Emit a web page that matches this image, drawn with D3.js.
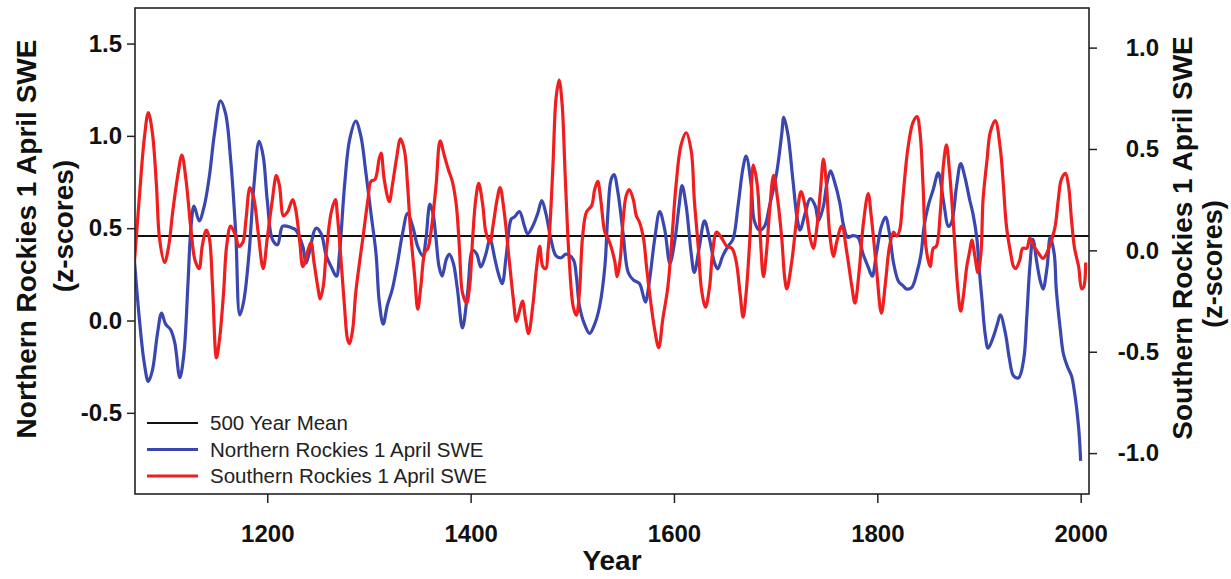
<!DOCTYPE html>
<html>
<head>
<meta charset="utf-8">
<script src="https://cdn.jsdelivr.net/npm/d3@7"></script>
<style>
  html, body { margin: 0; padding: 0; background: #ffffff; }
  svg text { font-family: "Liberation Sans", Arial, sans-serif; }
</style>
</head>
<body>
<svg id="chart" width="1231" height="579"></svg>
<script>
// ---------- DATA ----------
const northYears = [1069,1074,1079,1083,1087,1092,1096,1100,1105,1109,1114,1118,1122,1125,1128,1133,1138,1143,1148,1154,1159,1164,1169,1173,1177,1182,1187,1192,1196,1200,1205,1210,1215,1220,1225,1228,1235,1238,1241,1248,1253,1258,1263,1268,1271,1276,1281,1287,1292,1297,1302,1307,1310,1314,1318,1323,1328,1333,1338,1343,1348,1353,1356,1360,1363,1366,1369,1372,1376,1379,1383,1387,1392,1397,1402,1406,1410,1415,1419,1424,1427,1431,1435,1440,1443,1448,1453,1456,1461,1466,1470,1474,1479,1484,1489,1494,1501,1504,1507,1512,1517,1522,1527,1532,1535,1538,1541,1545,1550,1555,1560,1566,1570,1572,1576,1581,1586,1591,1596,1601,1605,1608,1612,1617,1620,1625,1630,1635,1640,1643,1648,1653,1658,1663,1668,1671,1676,1679,1684,1689,1694,1701,1706,1708,1712,1717,1721,1724,1729,1734,1739,1742,1747,1750,1754,1758,1763,1767,1771,1776,1781,1786,1791,1795,1799,1804,1808,1812,1816,1821,1825,1829,1834,1839,1843,1846,1850,1855,1860,1865,1870,1873,1878,1882,1886,1891,1894,1898,1900,1903,1906,1909,1914,1918,1921,1926,1930,1934,1939,1944,1947,1950,1953,1957,1960,1963,1967,1970,1974,1976,1980,1983,1987,1991,1994,1998,2000];
const northValues = [0.35,0.02,-0.23,-0.33,-0.27,-0.07,0.04,-0.02,-0.05,-0.12,-0.31,-0.18,0.20,0.51,0.62,0.54,0.62,0.78,1.01,1.19,1.12,0.87,0.47,0.03,0.11,0.36,0.74,0.97,0.89,0.65,0.44,0.41,0.51,0.51,0.50,0.49,0.40,0.31,0.36,0.50,0.47,0.35,0.29,0.24,0.36,0.73,0.98,1.08,1.00,0.80,0.58,0.36,0.11,-0.02,0.08,0.17,0.31,0.47,0.58,0.51,0.40,0.35,0.44,0.63,0.58,0.44,0.29,0.24,0.33,0.36,0.31,0.17,-0.04,0.15,0.38,0.36,0.29,0.36,0.44,0.33,0.26,0.20,0.35,0.55,0.56,0.59,0.51,0.47,0.51,0.58,0.65,0.58,0.44,0.35,0.34,0.36,0.33,0.24,0.08,-0.02,-0.07,-0.02,0.08,0.29,0.58,0.76,0.79,0.69,0.47,0.26,0.22,0.20,0.13,0.10,0.22,0.44,0.59,0.49,0.31,0.44,0.62,0.73,0.62,0.36,0.26,0.40,0.54,0.44,0.31,0.28,0.35,0.40,0.44,0.62,0.83,0.89,0.73,0.54,0.49,0.51,0.62,0.80,1.01,1.10,1.01,0.76,0.56,0.49,0.58,0.66,0.62,0.54,0.62,0.73,0.81,0.75,0.64,0.51,0.45,0.46,0.45,0.36,0.29,0.24,0.36,0.51,0.56,0.47,0.31,0.21,0.19,0.17,0.18,0.26,0.36,0.51,0.62,0.71,0.80,0.65,0.51,0.53,0.73,0.85,0.78,0.65,0.58,0.44,0.29,0.11,-0.07,-0.15,-0.09,-0.02,0.03,-0.07,-0.21,-0.30,-0.31,-0.21,0.02,0.29,0.44,0.31,0.22,0.17,0.29,0.45,0.36,0.17,-0.05,-0.18,-0.25,-0.30,-0.39,-0.58,-0.76];

const southYears = [1069,1074,1079,1083,1087,1091,1094,1099,1103,1107,1112,1116,1120,1125,1129,1133,1136,1140,1143,1146,1150,1153,1157,1160,1164,1169,1172,1176,1179,1183,1187,1191,1196,1200,1205,1209,1212,1216,1220,1225,1228,1232,1235,1240,1243,1246,1250,1252,1255,1258,1263,1267,1269,1273,1276,1279,1281,1284,1287,1291,1294,1299,1302,1306,1310,1312,1315,1320,1323,1327,1331,1335,1338,1341,1345,1348,1351,1355,1358,1361,1366,1370,1374,1378,1382,1386,1389,1392,1396,1399,1402,1405,1408,1412,1415,1419,1422,1426,1429,1433,1438,1442,1445,1448,1451,1454,1457,1461,1465,1468,1471,1474,1476,1478,1481,1484,1487,1490,1493,1497,1501,1504,1507,1510,1514,1519,1522,1525,1528,1532,1535,1538,1542,1544,1547,1550,1553,1556,1560,1563,1566,1570,1573,1576,1581,1585,1589,1594,1598,1602,1607,1612,1617,1620,1624,1627,1631,1635,1638,1642,1647,1652,1657,1661,1665,1668,1671,1675,1678,1682,1685,1688,1691,1694,1698,1702,1706,1709,1711,1716,1721,1725,1730,1734,1737,1740,1744,1747,1750,1753,1757,1760,1765,1770,1775,1778,1782,1786,1791,1794,1799,1804,1808,1812,1816,1819,1822,1825,1830,1835,1839,1842,1845,1848,1852,1855,1858,1862,1865,1868,1871,1875,1879,1882,1885,1888,1891,1893,1896,1899,1902,1904,1908,1911,1916,1921,1924,1927,1931,1934,1936,1940,1943,1947,1950,1954,1958,1963,1967,1972,1975,1978,1981,1985,1988,1991,1994,1998,2001,2003,2005];
const southValues = [-0.08,0.25,0.55,0.68,0.58,0.32,0.06,-0.06,0.02,0.19,0.37,0.47,0.35,0.10,-0.05,-0.09,0.02,0.10,0.06,-0.16,-0.53,-0.44,-0.21,0.02,0.12,0.07,0.02,0.04,0.15,0.31,0.25,0.09,-0.09,0.06,0.25,0.37,0.32,0.17,0.19,0.25,0.20,0.04,-0.08,0.00,0.04,-0.06,-0.19,-0.24,-0.18,-0.01,0.19,0.25,0.17,-0.08,-0.28,-0.44,-0.46,-0.39,-0.21,-0.05,0.06,0.25,0.34,0.35,0.45,0.48,0.35,0.24,0.32,0.45,0.55,0.49,0.32,0.09,-0.13,-0.29,-0.18,-0.01,0.01,0.09,0.32,0.54,0.47,0.40,0.34,0.22,0.01,-0.21,-0.26,-0.18,0.06,0.25,0.33,0.22,0.09,0.04,0.12,0.25,0.31,0.19,-0.05,-0.24,-0.35,-0.30,-0.25,-0.34,-0.41,-0.28,-0.08,0.02,-0.08,-0.09,-0.01,0.12,0.42,0.75,0.84,0.72,0.37,-0.05,-0.28,-0.32,-0.21,0.06,0.19,0.22,0.30,0.34,0.25,0.09,0.06,0.02,-0.06,-0.13,-0.05,0.15,0.27,0.30,0.25,0.17,0.14,0.06,-0.08,-0.21,-0.39,-0.48,-0.34,-0.18,0.06,0.32,0.52,0.58,0.49,0.25,0.01,-0.19,-0.28,-0.18,-0.01,0.09,0.06,0.02,0.01,-0.05,-0.21,-0.33,-0.21,0.09,0.42,0.32,0.06,-0.13,-0.01,0.19,0.37,0.25,0.06,-0.14,-0.19,-0.05,0.17,0.29,0.19,0.06,0.01,0.09,0.29,0.45,0.32,0.09,-0.03,0.04,0.12,-0.01,-0.18,-0.26,-0.11,0.12,0.28,0.17,-0.08,-0.31,-0.16,0.02,0.09,0.07,0.10,0.25,0.50,0.63,0.66,0.58,0.32,0.01,-0.08,0.01,0.02,0.19,0.42,0.52,0.39,0.12,-0.18,-0.30,-0.21,-0.08,0.00,0.05,-0.03,-0.11,-0.01,0.25,0.45,0.58,0.64,0.50,0.32,0.12,-0.01,-0.08,-0.09,-0.05,0.01,0.01,0.06,0.02,-0.01,-0.04,-0.01,0.06,0.12,0.25,0.35,0.38,0.32,0.15,0.01,-0.08,-0.19,-0.18,-0.06];

const meanValue = 0.458;  // 500 year mean, on the left (Northern) axis

const xTicks = [1200, 1400, 1600, 1800, 2000];
const leftTicks = [-0.5, 0.0, 0.5, 1.0, 1.5];
const rightTicks = [-1.0, -0.5, 0.0, 0.5, 1.0];

const legendLabels = ["500 Year Mean", "Northern Rockies 1 April SWE", "Southern Rockies 1 April SWE"];
const leftTitle = ["Northern Rockies 1 April SWE", "(z-scores)"];
const rightTitle = ["Southern Rockies 1 April SWE", "(z-scores)"];
const xTitle = "Year";

// ---------- LAYOUT ----------
const plot = { left: 135, right: 1089, top: 8, bottom: 494 };
const colors = { mean: "#111111", north: "#3a47b0", south: "#f01e1e" };

const svg = d3.select("#chart");

const x = d3.scaleLinear().domain([1069.9, 2008.2]).range([plot.left, plot.right]);
const yL = d3.scaleLinear().domain([-0.9396, 1.6925]).range([plot.bottom, plot.top]);
const yR = d3.scaleLinear().domain([-1.2017, 1.1953]).range([plot.bottom, plot.top]);

const north = northYears.map((yr, i) => [yr, northValues[i]]);
const south = southYears.map((yr, i) => [yr, southValues[i]]);

svg.append("clipPath").attr("id", "clip").append("rect")
  .attr("x", plot.left).attr("y", plot.top)
  .attr("width", plot.right - plot.left).attr("height", plot.bottom - plot.top);

const g = svg.append("g").attr("clip-path", "url(#clip)");

const lineN = d3.line().x(d => x(d[0])).y(d => yL(d[1])).curve(d3.curveCatmullRom.alpha(0.5));
const lineS = d3.line().x(d => x(d[0])).y(d => yR(d[1])).curve(d3.curveCatmullRom.alpha(0.5));

// mean line
g.append("line")
  .attr("x1", plot.left).attr("x2", plot.right)
  .attr("y1", yL(meanValue)).attr("y2", yL(meanValue))
  .attr("stroke", colors.mean).attr("stroke-width", 2);

g.append("path").datum(north).attr("d", lineN)
  .attr("fill", "none").attr("stroke", colors.north).attr("stroke-width", 3.2)
  .attr("stroke-linejoin", "round");
g.append("path").datum(south).attr("d", lineS)
  .attr("fill", "none").attr("stroke", colors.south).attr("stroke-width", 3.2)
  .attr("stroke-linejoin", "round");

// frame
svg.append("rect")
  .attr("x", plot.left).attr("y", plot.top)
  .attr("width", plot.right - plot.left).attr("height", plot.bottom - plot.top)
  .attr("fill", "none").attr("stroke", "#222").attr("stroke-width", 1.6);

// axes
const fmt = v => d3.format(".1f")(v).replace("\u2212", "-");
const xAxis = svg.append("g").attr("transform", `translate(0,${plot.bottom})`)
  .call(d3.axisBottom(x).tickValues(xTicks).tickFormat(d3.format("d")).tickSize(9).tickPadding(22));
const lAxis = svg.append("g").attr("transform", `translate(${plot.left},0)`)
  .call(d3.axisLeft(yL).tickValues(leftTicks).tickFormat(fmt).tickSize(8).tickPadding(5));
const rAxis = svg.append("g").attr("transform", `translate(${plot.right},0)`)
  .call(d3.axisRight(yR).tickValues(rightTicks).tickFormat(fmt).tickSize(8).tickPadding(5));

[xAxis, lAxis, rAxis].forEach(a => {
  a.select(".domain").remove();
  a.selectAll(".tick line").attr("stroke", "#222").attr("stroke-width", 1.5);
  a.selectAll(".tick text").attr("font-size", 24).attr("font-weight", "bold")
    .attr("fill", "#111").style("font-family", "'Liberation Sans', Arial, sans-serif");
});
// right axis labels are right-aligned
rAxis.selectAll(".tick text").attr("text-anchor", "end").attr("x", 70);

// axis titles
svg.append("text").attr("x", (plot.left + plot.right) / 2).attr("y", 570)
  .attr("text-anchor", "middle").attr("font-size", 28).attr("font-weight", "bold")
  .attr("fill", "#111").text(xTitle);

svg.append("text").attr("transform", "translate(36,239) rotate(-90)")
  .attr("text-anchor", "middle").attr("font-size", 28).attr("font-weight", "bold")
  .attr("fill", "#111").text(leftTitle[0]);
svg.append("text").attr("transform", "translate(73,226) rotate(-90)")
  .attr("text-anchor", "middle").attr("font-size", 28).attr("font-weight", "bold")
  .attr("fill", "#111").text(leftTitle[1]);

svg.append("text").attr("transform", "translate(1192,238) rotate(-90)")
  .attr("text-anchor", "middle").attr("font-size", 28).attr("font-weight", "bold")
  .attr("fill", "#111").text(rightTitle[0]);
svg.append("text").attr("transform", "translate(1222,264) rotate(-90)")
  .attr("text-anchor", "middle").attr("font-size", 27).attr("font-weight", "bold")
  .attr("fill", "#111").text(rightTitle[1]);

// legend
const legendColors = [colors.mean, colors.north, colors.south];
const legendWidths = [1.8, 3.2, 3.2];
const legend = svg.append("g");
legendLabels.forEach((lab, i) => {
  const yy = 423 + i * 26.5;
  legend.append("line").attr("x1", 147).attr("x2", 198).attr("y1", yy).attr("y2", yy)
    .attr("stroke", legendColors[i]).attr("stroke-width", legendWidths[i]);
  legend.append("text").attr("x", 210).attr("y", yy + 7)
    .attr("font-size", 20.5).attr("fill", "#222").text(lab);
});
</script>
</body>
</html>
